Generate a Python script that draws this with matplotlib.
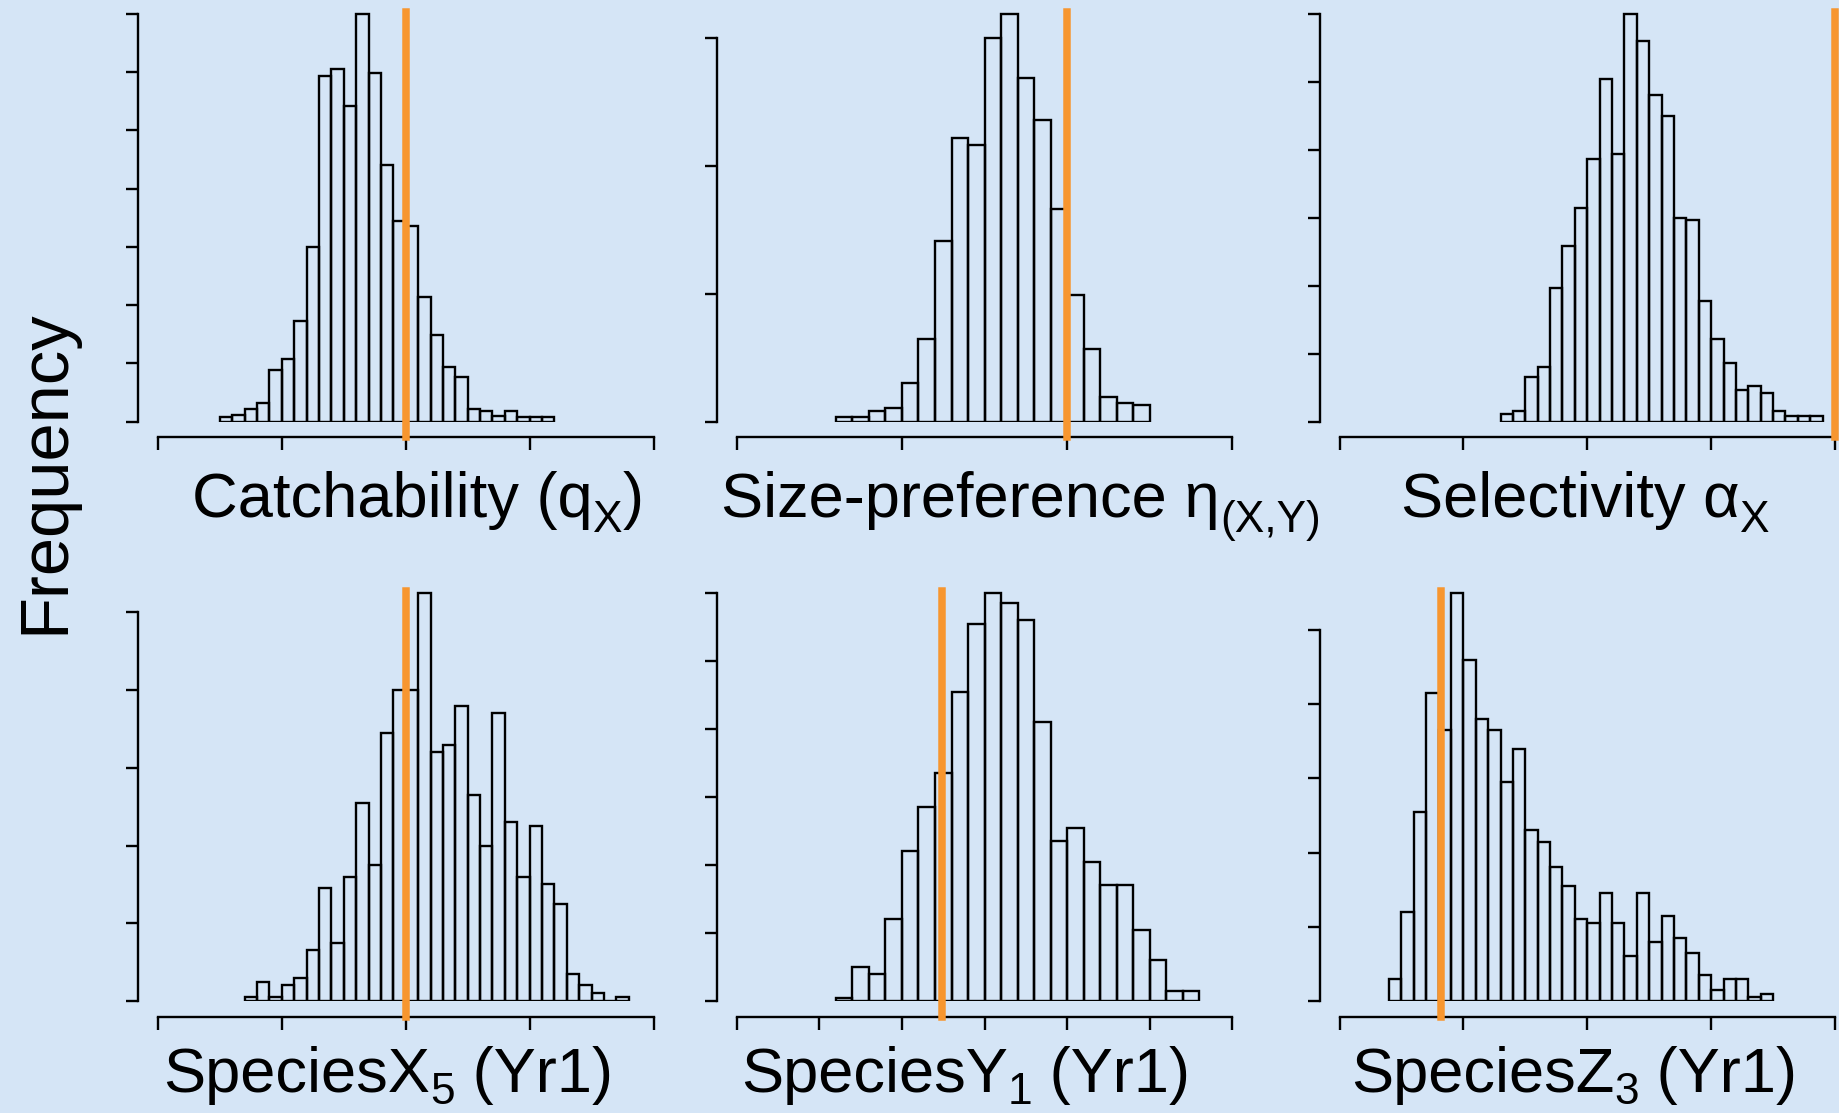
import matplotlib
matplotlib.use('Agg')
import matplotlib.pyplot as plt
import numpy as np

# histogram counts (arbitrary count units)
catch_counts = [4, 6, 11, 16, 44, 54, 86, 150, 297, 303, 271, 350, 299, 220,
                172, 168, 107, 74, 47, 38, 11, 9, 5, 9, 4, 4, 4]
size_counts = [4, 4, 8, 11, 30, 65, 141, 222, 216, 300, 319, 269, 236, 166,
               99, 57, 19, 15, 13]
select_counts = [6, 8, 33, 40, 98, 129, 157, 193, 252, 197, 300, 280, 240, 225,
                 150, 148, 89, 61, 43, 23, 26, 21, 8, 4, 4, 4]
specx_counts = [1, 5, 1, 4, 6, 13, 29, 15, 32, 51, 35, 69, 80, 80, 105, 64, 66,
                76, 53, 40, 74, 46, 32, 45, 30, 25, 7, 4, 2, 0, 1]
specy_counts = [1, 10, 8, 24, 44, 57, 67, 91, 111, 120, 117, 112, 82, 47, 51,
                41, 34, 34, 21, 12, 3, 3]
specz_counts = [6, 24, 51, 83, 73, 110, 92, 76, 73, 59, 68, 46, 43, 36, 31, 22,
                21, 29, 21, 12, 29, 16, 23, 17, 13, 7, 3, 6, 6, 1, 2]

# first bin edge and bin width (x units: ticks at 0, 1, 2, ...)
bin_starts = [0.5, 0.6, 1.3, 0.7, 1.2, 0.4]
bin_widths = [0.1, 0.1, 0.1, 0.1, 0.2, 0.1]
x_tick_max = [4, 3, 4, 4, 6, 4]
y_tick_steps = [50, 100, 50, 20, 20, 20]
y_tick_max = [350, 300, 300, 100, 120, 100]
true_values = [2.0, 2.0, 4.0, 2.0, 2.48, 0.82]

# axis labels as (text, is_subscript) pieces
labels = [
    [('Catchability (q', False), ('X', True), (')', False)],
    [('Size-preference η', False), ('(X,Y)', True)],
    [('Selectivity α', False), ('X', True)],
    [('SpeciesX', False), ('5', True), (' (Yr1)', False)],
    [('SpeciesY', False), ('1', True), (' (Yr1)', False)],
    [('SpeciesZ', False), ('3', True), (' (Yr1)', False)],
]

BG = '#d5e5f6'
ORANGE = '#f7962f'
W, H = 1839, 1113
LW = 1.7

plt.rcParams['font.family'] = ['Liberation Sans', 'DejaVu Sans']


def draw_panel(ax, counts, start, width, xmax, ystep, ytop, truth):
    counts = np.asarray(counts, dtype=float)
    edges = start + width * np.arange(len(counts))
    ax.bar(edges, counts, width=width, align='edge', fill=False,
           edgecolor='black', linewidth=LW, zorder=2)
    ax.set_xlim(0, xmax)
    ax.set_ylim(0, counts.max() * 1.005)
    ax.set_xticks(np.arange(0, xmax + 1))
    ax.set_yticks(np.arange(0, ytop + 1, ystep))
    ax.tick_params(direction='out', width=LW, labelleft=False, labelbottom=False)
    ax.tick_params(axis='y', length=8.5)
    ax.tick_params(axis='x', length=9)
    for side in ('top', 'right'):
        ax.spines[side].set_visible(False)
    ax.spines['left'].set_position(('outward', 14.4))
    ax.spines['bottom'].set_position(('outward', 11.3))
    ax.spines['left'].set_bounds(0, ytop)
    ax.spines['bottom'].set_bounds(0, xmax)
    for side in ('left', 'bottom'):
        ax.spines[side].set_linewidth(LW)
    ax.patch.set_alpha(0)
    ax.axvline(truth, ymin=-0.038, ymax=1.0, color=ORANGE, linewidth=5.4,
               clip_on=False, zorder=3)


def place_label(fig, renderer, pieces, cx, base, size, drop):
    """Lay out text pieces left to right, centred on cx (pixels from left)."""
    em = size * 100 / 72.0
    items = []
    total = 0.0
    for s, sub in pieces:
        fs = size * 0.7 if sub else size
        t = fig.text(0, 0, s, fontsize=fs, ha='left', va='baseline')
        w = t.get_window_extent(renderer).width
        items.append((t, w, sub))
        total += w
    x = cx - total / 2.0
    for t, w, sub in items:
        y = base + (drop * em if sub else 0.0)
        t.set_position((x / W, (H - y) / H))
        x += w


def main():
    fig = plt.figure(figsize=(W / 100, H / 100), dpi=100)
    fig.patch.set_facecolor(BG)
    renderer = fig.canvas.get_renderer()

    col_left = [158, 736.8, 1339.5]
    col_w = 495.5
    row_base = [421.7, 1001]
    row_h = 410

    all_counts = [catch_counts, size_counts, select_counts,
                  specx_counts, specy_counts, specz_counts]
    label_x = [418, 1021, 1585, 388, 965.5, 1574]
    label_base = [517, 1092]
    sub_drop = [0.24, 0.19]

    for i, counts in enumerate(all_counts):
        r, c = divmod(i, 3)
        rect = [col_left[c] / W, (H - row_base[r]) / H, col_w / W, row_h / H]
        ax = fig.add_axes(rect)
        draw_panel(ax, counts, bin_starts[i], bin_widths[i], x_tick_max[i],
                   y_tick_steps[i], y_tick_max[i], true_values[i])
        place_label(fig, renderer, labels[i], label_x[i], label_base[r], 45.5,
                    sub_drop[r])

    fig.text(63.3 / W, (H - 471.6) / H, 'Frequency', rotation=90,
             rotation_mode='anchor', ha='center', va='baseline', fontsize=49.5)

    fig.savefig('out.png', dpi=100, facecolor=BG)
    plt.close(fig)


if __name__ == '__main__':
    main()
